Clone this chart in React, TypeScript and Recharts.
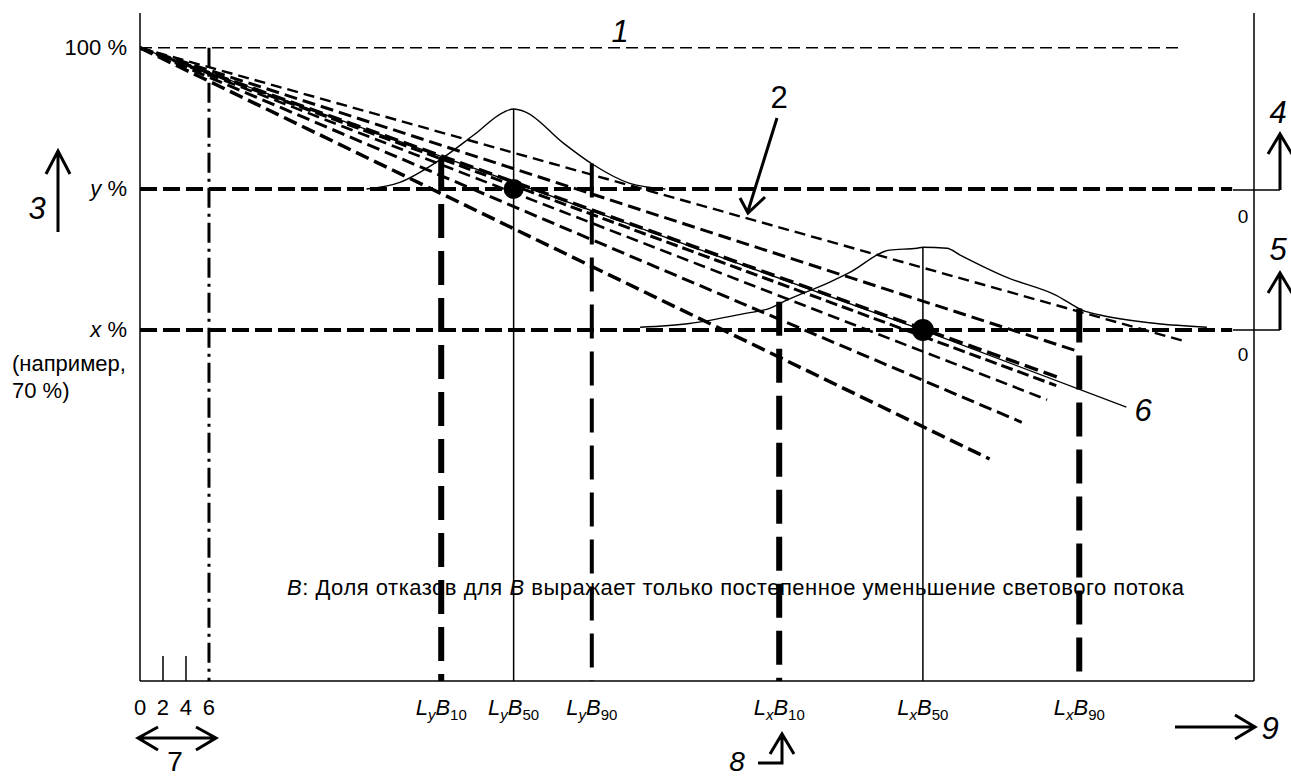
import React from "react";
import { LineChart, Line, XAxis, YAxis, ReferenceLine, ReferenceDot } from "recharts";

const W = 1291;
const H = 778;
const FONT = '"Liberation Sans", Arial, Helvetica, sans-serif';

// life axis (arbitrary units, 0..6 are the first hours) and lumen maintenance in %
const X_MAX = 96.9;
const Y_MIN = 32.7;
const Y_MAX = 103.7;

const LEVEL_START = 100;
const LEVEL_Y = 85;
const LEVEL_X = 70;
const LINE1_END = 90.7;
const LEVEL_END = 95;
const FIRST_HOURS = 6;
const smallTicks = [2, 4];

const lifeY = [26.2, 32.5, 39.3]; // LyB10, LyB50, LyB90
const lifeX = [55.6, 68.1, 81.7]; // LxB10, LxB50, LxB90
const distYAtLife = [88.4, 93.5, 87.7];
const distXAtLife = [73.0, 78.8, 72.3];

const xTicks = [0, 2, 4, 6, ...lifeY, ...lifeX];
const xTickLabels = ["0", "2", "4", "6", "LyB10", "LyB50", "LyB90", "LxB10", "LxB50", "LxB90"];
const yTicks = [100, 85, 70];
const yTickLabels = ["100", "y", "x"];

// individual lumen maintenance curves
const decayA = [{ x: 0, y: 100 }, { x: 90.9, y: 68.8 }];
const decayB = [{ x: 0, y: 100 }, { x: 81.7, y: 67.7 }];
const decayC = [{ x: 0, y: 100 }, { x: 79.8, y: 65.0 }];
const decayD = [{ x: 0, y: 100 }, { x: 79.7, y: 64.1 }];
const decayE = [{ x: 0, y: 100 }, { x: 78.9, y: 62.6 }];
const decayF = [{ x: 0, y: 100 }, { x: 76.7, y: 60.2 }];
const decayG = [{ x: 0, y: 100 }, { x: 73.9, y: 56.3 }];
const decay6 = [{ x: 0, y: 100 }, { x: 68.1, y: 70.0 }, { x: 85.8, y: 61.8 }];

// distributions of life at y % and at x %
const distY = [
  { x: 19.7, y: 85.0 }, { x: 22.6, y: 85.7 }, { x: 26.1, y: 88.1 }, { x: 29.0, y: 90.7 },
  { x: 31.7, y: 93.2 }, { x: 32.5, y: 93.5 }, { x: 33.5, y: 93.2 }, { x: 36.8, y: 89.9 },
  { x: 39.4, y: 87.6 }, { x: 42.6, y: 85.6 }, { x: 45.7, y: 85.0 },
];
const distX = [
  { x: 43.5, y: 70.3 }, { x: 47.8, y: 70.7 }, { x: 52.8, y: 71.8 }, { x: 54.5, y: 72.2 },
  { x: 56.3, y: 73.2 }, { x: 60.0, y: 75.1 }, { x: 61.7, y: 76.1 }, { x: 65.2, y: 78.5 },
  { x: 67.6, y: 78.7 }, { x: 68.1, y: 78.8 }, { x: 70.2, y: 78.7 }, { x: 71.3, y: 78.0 },
  { x: 75.4, y: 75.6 }, { x: 79.7, y: 73.7 }, { x: 82.0, y: 72.1 }, { x: 83.5, y: 71.6 },
  { x: 88.4, y: 70.7 }, { x: 92.8, y: 70.3 },
];

function XTick(props: any) {
  const { x, y, payload } = props;
  const label = xTickLabels[xTicks.indexOf(payload.value)] ?? "";
  const by = y + 34;
  if (!label.startsWith("L")) {
    return (
      <text x={x} y={by} textAnchor="middle" fontSize={22} fontFamily={FONT} fill="#000">
        {label}
      </text>
    );
  }
  return (
    <text x={x} y={by} textAnchor="middle" fontSize={22} fontFamily={FONT} fill="#000">
      <tspan fontStyle="italic">L</tspan>
      <tspan fontStyle="italic" fontSize={15} dy={5}>{label[1]}</tspan>
      <tspan fontStyle="italic" dy={-5}>B</tspan>
      <tspan fontSize={15} dy={5}>{label.slice(3)}</tspan>
    </text>
  );
}

function YTick(props: any) {
  const { y, payload } = props;
  const x = 127;
  const label = yTickLabels[yTicks.indexOf(payload.value)] ?? "";
  return (
    <g fontFamily={FONT} fontSize={22} fill="#000">
      <text x={x} y={y + 7} textAnchor="end">
        {label === "100" ? "100 %" : (
          <>
            <tspan fontStyle="italic">{label}</tspan>
            <tspan> %</tspan>
          </>
        )}
      </text>
      {payload.value === LEVEL_X && (
        <>
          <text x={x - 115} y={y + 41}>(например,</text>
          <text x={x - 115} y={y + 68}>70 %)</text>
        </>
      )}
    </g>
  );
}

function Overlay() {
  const big = { fontSize: 31, fontFamily: FONT, fill: "#000" };
  return (
    <svg width={W} height={H} style={{ position: "absolute", left: 0, top: 0, pointerEvents: "none" }}>
      <g stroke="#000" fill="none" strokeWidth={3}>
        {/* 3 */}
        <path d="M58 232 V152 M46 174 L58 151 L70 174" />
        {/* 2 */}
        <path d="M777 118 L748 211 M740 198 L748 213 L765 197" />
        {/* 4 and 5 */}
        <path d="M1233 190 H1280 M1233 330 H1280" strokeWidth={1.5} />
        <path d="M1280 190 V136 M1268 154 L1280 134 L1292 154" />
        <path d="M1280 330 V275 M1268 293 L1280 273 L1292 293" />
        {/* 7 */}
        <path d="M139 738 H215 M158 727 L138 738 L158 750 M196 727 L216 738 L196 750" />
        {/* 8 */}
        <path d="M758 763 H782 V736 M770 754 L782 734 L794 754" />
        {/* 9 */}
        <path d="M1175 727 H1253 M1235 715 L1255 727 L1235 739" />
      </g>
      <text x={620} y={42} textAnchor="middle" fontStyle="italic" {...big}>1</text>
      <text x={779} y={108} textAnchor="middle" {...big}>2</text>
      <text x={37} y={219} textAnchor="middle" fontStyle="italic" {...big}>3</text>
      <text x={1278} y={123} textAnchor="middle" fontStyle="italic" {...big}>4</text>
      <text x={1278} y={260} textAnchor="middle" fontStyle="italic" {...big}>5</text>
      <text x={1143} y={421} textAnchor="middle" fontStyle="italic" {...big}>6</text>
      <text x={175} y={771} textAnchor="middle" {...big} fontSize={28}>7</text>
      <text x={737} y={771} textAnchor="middle" fontStyle="italic" {...big} fontSize={28}>8</text>
      <text x={1270} y={739} textAnchor="middle" fontStyle="italic" {...big}>9</text>
      <text x={1243} y={223} textAnchor="middle" fontSize={19} fontFamily={FONT}>0</text>
      <text x={1243} y={361} textAnchor="middle" fontSize={19} fontFamily={FONT}>0</text>
      <text x={287} y={595} fontSize={22} fontFamily={FONT} textLength={897} lengthAdjust="spacing">
        <tspan fontStyle="italic">B</tspan>: Доля отказов для <tspan fontStyle="italic">B</tspan> выражает только постепенное уменьшение светового потока
      </text>
    </svg>
  );
}

export default function App() {
  const dec = { type: "linear" as const, dataKey: "y", stroke: "#000", dot: false, activeDot: false, isAnimationActive: false };
  return (
    <div style={{ position: "absolute", left: 0, top: 0, width: W, height: H, overflow: "hidden", background: "#fff" }}>
      <LineChart width={W} height={H} margin={{ top: 13, right: 37, bottom: 57, left: 0 }}>
        <XAxis
          type="number"
          dataKey="x"
          domain={[0, X_MAX]}
          ticks={xTicks}
          interval={0}
          tick={(p: any) => <XTick {...p} />}
          tickLine={false}
          tickSize={0}
          tickMargin={0}
          height={40}
          axisLine={{ stroke: "#000", strokeWidth: 1.5 }}
          allowDataOverflow
        />
        <YAxis
          type="number"
          dataKey="y"
          domain={[Y_MIN, Y_MAX]}
          ticks={yTicks}
          interval={0}
          tick={(p: any) => <YTick {...p} />}
          tickLine={false}
          width={140}
          axisLine={{ stroke: "#000", strokeWidth: 1.5 }}
          allowDataOverflow
        />
        <ReferenceLine x={X_MAX} stroke="#000" strokeWidth={1.5} />

        {/* 1: initial level */}
        <ReferenceLine segment={[{ x: 0, y: LEVEL_START }, { x: LINE1_END, y: LEVEL_START }]} stroke="#000" strokeWidth={1.5} strokeDasharray="12 6" />
        {/* y % and x % levels */}
        <ReferenceLine segment={[{ x: 0, y: LEVEL_Y }, { x: LEVEL_END, y: LEVEL_Y }]} stroke="#000" strokeWidth={4} strokeDasharray="17 6" />
        <ReferenceLine segment={[{ x: 0, y: LEVEL_X }, { x: LEVEL_END, y: LEVEL_X }]} stroke="#000" strokeWidth={4} strokeDasharray="17 6" />

        {/* first hours */}
        <ReferenceLine segment={[{ x: FIRST_HOURS, y: LEVEL_START }, { x: FIRST_HOURS, y: Y_MIN }]} stroke="#000" strokeWidth={3} strokeDasharray="20 6 3 6" />
        {smallTicks.map((t) => (
          <ReferenceLine key={t} segment={[{ x: t, y: Y_MIN }, { x: t, y: Y_MIN + 2.66 }]} stroke="#000" strokeWidth={1.5} />
        ))}

        {/* B10 / B50 / B90 markers */}
        <ReferenceLine segment={[{ x: lifeY[0], y: distYAtLife[0] }, { x: lifeY[0], y: Y_MIN }]} stroke="#000" strokeWidth={6} strokeDasharray="34 13" />
        <ReferenceLine segment={[{ x: lifeY[1], y: distYAtLife[1] }, { x: lifeY[1], y: Y_MIN }]} stroke="#000" strokeWidth={1.5} />
        <ReferenceLine segment={[{ x: lifeY[2], y: distYAtLife[2] }, { x: lifeY[2], y: Y_MIN }]} stroke="#000" strokeWidth={4} strokeDasharray="34 13" />
        <ReferenceLine segment={[{ x: lifeX[0], y: distXAtLife[0] }, { x: lifeX[0], y: Y_MIN }]} stroke="#000" strokeWidth={6} strokeDasharray="34 13" />
        <ReferenceLine segment={[{ x: lifeX[1], y: distXAtLife[1] }, { x: lifeX[1], y: Y_MIN }]} stroke="#000" strokeWidth={1.5} />
        <ReferenceLine segment={[{ x: lifeX[2], y: distXAtLife[2] }, { x: lifeX[2], y: Y_MIN }]} stroke="#000" strokeWidth={6} strokeDasharray="34 13" />

        {/* 2: lumen maintenance curves */}
        <Line {...dec} data={decayA} strokeWidth={2.4} strokeDasharray="11 6" />
        <Line {...dec} data={decayB} strokeWidth={3} strokeDasharray="13 6" />
        <Line {...dec} data={decayC} strokeWidth={3.5} strokeDasharray="14 6" />
        <Line {...dec} data={decayD} strokeWidth={3} strokeDasharray="12 5" />
        <Line {...dec} data={decayE} strokeWidth={2.6} strokeDasharray="12 6" />
        <Line {...dec} data={decayF} strokeWidth={3} strokeDasharray="13 6" />
        <Line {...dec} data={decayG} strokeWidth={3.5} strokeDasharray="14 6" />
        {/* 6: average curve */}
        <Line {...dec} data={decay6} strokeWidth={1.3} />

        {/* distributions */}
        <Line {...dec} type="monotone" data={distY} strokeWidth={1.4} />
        <Line {...dec} type="monotone" data={distX} strokeWidth={1.4} />

        <ReferenceDot x={lifeY[1]} y={LEVEL_Y} r={10} fill="#000" stroke="none" />
        <ReferenceDot x={lifeX[1]} y={LEVEL_X} r={11} fill="#000" stroke="none" />
      </LineChart>
      <Overlay />
    </div>
  );
}
